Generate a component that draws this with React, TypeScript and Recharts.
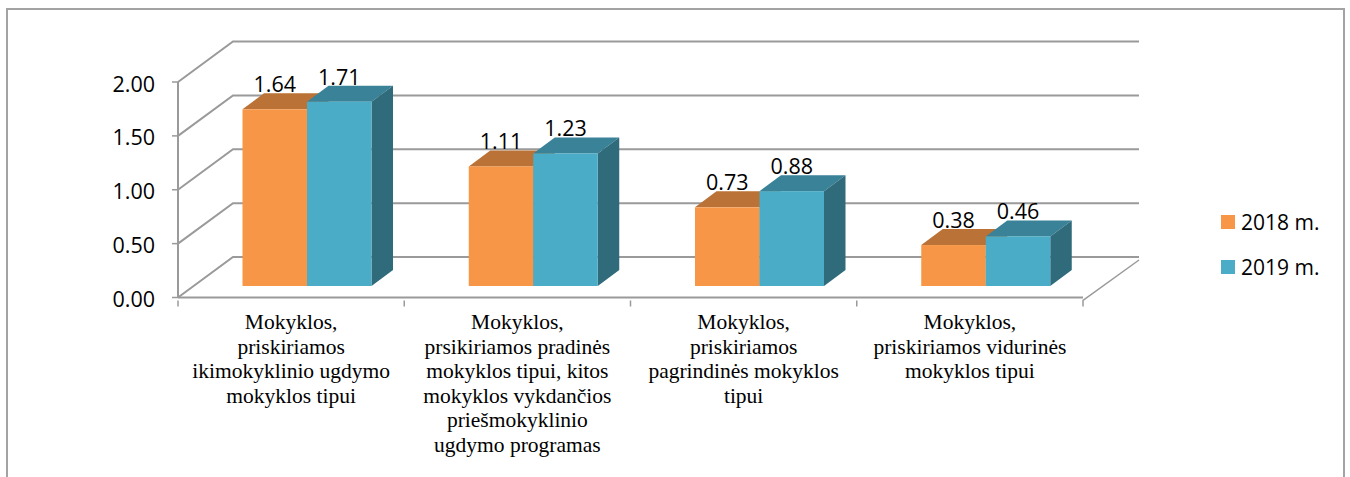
import React from "react";
import { BarChart, Bar, XAxis, YAxis, CartesianGrid, Legend, LabelList } from "recharts";

const categoryLines: string[][] = [
  ["Mokyklos,", "priskiriamos", "ikimokyklinio ugdymo", "mokyklos tipui"],
  ["Mokyklos,", "prsikiriamos pradinės", "mokyklos tipui, kitos", "mokyklos vykdančios", "priešmokyklinio", "ugdymo programas"],
  ["Mokyklos,", "priskiriamos", "pagrindinės mokyklos", "tipui"],
  ["Mokyklos,", "priskiriamos vidurinės", "mokyklos tipui"],
];
const categories = categoryLines.map((l) => l.join(" "));
const values2018 = [1.64, 1.11, 0.73, 0.38];
const values2019 = [1.71, 1.23, 0.88, 0.46];
const yTicks = [0, 0.5, 1, 1.5, 2];

const data = categories.map((name, i) => ({ name, y2018: values2018[i], y2019: values2019[i] }));

const W = 1350;
const H = 477;
const GRID = "#9a9a9a";
const SANS = "'Open Sans', sans-serif";
const SERIF = "'Liberation Serif', serif";
const WALL_DX = 55;
const WALL_DY = -40.5;
const BAR_DX = 15.5;
const BAR_DY = -11.5;
const DEPTH_X = 21.5;
const DEPTH_Y = -16;
const BAND = 226.25;

const series = [
  { key: "y2018", name: "2018 m.", front: "#F79646", top: "#BA7236", side: "#B96F32" },
  { key: "y2019", name: "2019 m.", front: "#4AACC6", top: "#398298", side: "#306B7B" },
];

function Box3D(props: any) {
  const { x, y, width, height, front, top, side } = props;
  const l = x + BAR_DX;
  const r = l + width;
  const t = y + BAR_DY;
  const b = t + height;
  return (
    <g>
      <polygon points={`${l},${t} ${l + DEPTH_X},${t + DEPTH_Y} ${r + DEPTH_X},${t + DEPTH_Y} ${r},${t}`} fill={top} />
      <polygon points={`${r},${t} ${r + DEPTH_X},${t + DEPTH_Y} ${r + DEPTH_X},${b + DEPTH_Y} ${r},${b}`} fill={side} />
      <rect x={l} y={t} width={width} height={height} fill={front} />
    </g>
  );
}

function GridLine(props: any) {
  const { x1, x2, y1 } = props;
  return (
    <path
      d={`M${x1},${y1} L${x1 + WALL_DX},${y1 + WALL_DY} L${x2 + WALL_DX + 1},${y1 + WALL_DY}`}
      fill="none"
      stroke={GRID}
      strokeWidth={2}
    />
  );
}

function CategoryTick(props: any) {
  const { x, y, payload, index } = props;
  const i = payload?.index ?? index ?? 0;
  const lines = categoryLines[i] ?? [];
  const left = x - BAND / 2;
  const right = x + BAND / 2;
  return (
    <g>
      <line x1={left} x2={left} y1={y - 5} y2={y + 1} stroke={GRID} strokeWidth={1.5} />
      {i === categoryLines.length - 1 && (
        <path
          d={`M${right},${y + 1} L${right},${y - 5} L${right + WALL_DX + 1},${y - 5 + WALL_DY}`}
          fill="none"
          stroke={GRID}
          strokeWidth={1.5}
        />
      )}
      <text textAnchor="middle" fontFamily={SERIF} fontSize={21.5} fill="#000">
        {lines.map((line, k) => (
          <tspan key={k} x={x} y={y + 23.5 + k * 24.6}>
            {line}
          </tspan>
        ))}
      </text>
    </g>
  );
}

function ValueLabel(props: any) {
  const { x, y, width, value } = props;
  return (
    <text
      x={x + width / 2 + BAR_DX}
      y={y + BAR_DY - 17}
      textAnchor="middle"
      fontFamily={SANS}
      fontSize={21.5}
      fill="#000"
    >
      {Number(value).toFixed(2)}
    </text>
  );
}

function ValueTick(props: any) {
  const { x, y, payload } = props;
  return (
    <text x={x} y={y + 9.5} textAnchor="end" fontFamily={SANS} fontSize={21.5} fill="#000">
      {Number(payload.value).toFixed(2)}
    </text>
  );
}

function LegendBox() {
  return (
    <div style={{ fontFamily: SANS, fontSize: 21, color: "#000" }}>
      {series.map((s) => (
        <div key={s.key} style={{ display: "flex", alignItems: "center", height: 45 }}>
          <span style={{ width: 14, height: 14, background: s.front, marginRight: 6, display: "inline-block" }} />
          <span>{s.name}</span>
        </div>
      ))}
    </div>
  );
}

export default function App() {
  return (
    <div style={{ position: "absolute", left: 0, top: 0, width: W, height: H, overflow: "hidden", background: "#fff" }}>
      <div
        style={{
          position: "absolute",
          left: 6,
          top: 8,
          width: 1339,
          height: H,
          border: "2px solid #a3a3a3",
          boxSizing: "border-box",
        }}
      />
      <BarChart
        width={W}
        height={H}
        data={data}
        barSize={64.5}
        barGap={0}
        margin={{ left: 118, top: 82, right: 267, bottom: 9.5 }}
        style={{ position: "absolute", left: 0, top: 0 }}
      >
        <CartesianGrid vertical={false} horizontal={GridLine as any} />
        <XAxis
          dataKey="name"
          height={170}
          interval={0}
          axisLine={{ stroke: GRID, strokeWidth: 2 }}
          tickLine={false}
          tick={CategoryTick as any}
        />
        <YAxis
          width={60}
          domain={[0, 2]}
          ticks={yTicks}
          interval={0}
          axisLine={{ stroke: GRID, strokeWidth: 2 }}
          tickLine={{ stroke: GRID, strokeWidth: 1.5 }}
          tickSize={6}
          tickMargin={17}
          tick={ValueTick as any}
        />
        <Legend
          layout="vertical"
          align="center"
          verticalAlign="middle"
          content={<LegendBox />}
          wrapperStyle={{ left: 1221, top: 199.5, width: 120, right: "auto", bottom: "auto" }}
        />
        {series.map((s) => (
          <Bar
            key={s.key}
            dataKey={s.key}
            name={s.name}
            fill={s.front}
            isAnimationActive={false}
            shape={(p: any) => <Box3D {...p} front={s.front} top={s.top} side={s.side} />}
          >
            <LabelList dataKey={s.key} content={ValueLabel as any} />
          </Bar>
        ))}
      </BarChart>
    </div>
  );
}
